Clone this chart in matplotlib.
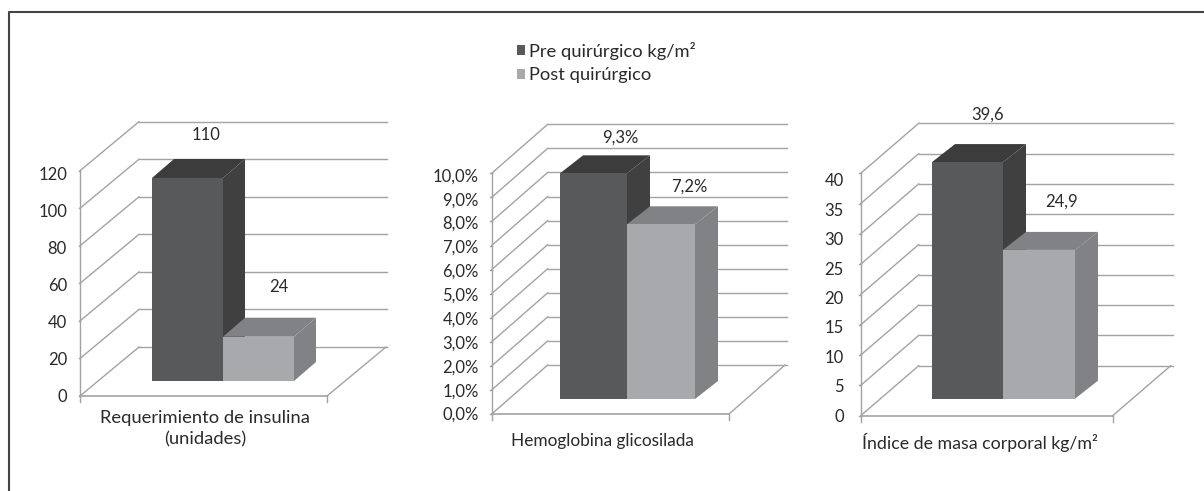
import matplotlib
matplotlib.use("Agg")
import matplotlib.pyplot as plt
from matplotlib.lines import Line2D
from matplotlib.patches import Patch, Polygon
from matplotlib.transforms import Affine2D

plt.rcParams['font.family'] = ['Lato', 'DejaVu Sans']

# data
series_names = ["Pre quirúrgico kg/m²", "Post quirúrgico"]
insulina_vals = [110, 24]
insulina_labels = ["110", "24"]
insulina_ticks = [0, 20, 40, 60, 80, 100, 120]
insulina_ticklabels = ["0", "20", "40", "60", "80", "100", "120"]
hba1c_vals = [9.3, 7.2]
hba1c_labels = ["9,3%", "7,2%"]
hba1c_ticks = [0, 1, 2, 3, 4, 5, 6, 7, 8, 9, 10]
hba1c_ticklabels = ["0,0%", "1,0%", "2,0%", "3,0%", "4,0%", "5,0%", "6,0%", "7,0%", "8,0%", "9,0%", "10,0%"]
imc_vals = [39.6, 24.9]
imc_labels = ["39,6", "24,9"]
imc_ticks = [0, 5, 10, 15, 20, 25, 30, 35, 40]
imc_ticklabels = ["0", "5", "10", "15", "20", "25", "30", "35", "40"]

W, H = 1204, 491
FRONT = ["#58595b", "#a7a9ac"]
SIDE = ["#404041", "#808285"]
TOP = ["#3c3c3d", "#808285"]
GRID = "#a3a3a3"
TXT = "#2a2a2a"
FS = 12
FS_BIG = 13.2

fig = plt.figure(figsize=(W / 100, H / 100), dpi=100)
fig.patch.set_facecolor("white")
# only the top and left rules of the frame are in the picture
fig.add_artist(Line2D([8.5 / W, 8.5 / W, 1], [0, 1 - 11.5 / H, 1 - 11.5 / H], transform=fig.transFigure,
                      color="#444444", lw=1.5))


def panel(x0, x1, ybase, ytop, back_dx, back_dy, right, vals, labels, ticks, ticklabels,
          bar_x, bar_base, bar_scale, depth, label_off, title, title_y, title_fs, pad, drift):
    ax = fig.add_axes([x0 / W, 1 - ybase / H, (x1 - x0) / W, (ybase - ytop) / H])
    ax.set_xlim(x0, x1)
    ax.set_ylim(ticks[0], ticks[-1])
    ax.axis("off")
    back = ax.transData + Affine2D().translate(back_dx, back_dy)
    unit = (ybase - ytop) / (ticks[-1] - ticks[0])
    lift = (ybase - bar_base) / unit

    for t, tl in zip(ticks, ticklabels):
        px = ax.transData.transform((x0, t))
        ax.plot([px[0], px[0] + back_dx], [px[1], px[1] + back_dy], color=GRID, lw=1,
                transform=None, clip_on=False, zorder=1)
        ax.plot([x0, right - back_dx], [t, t], color=GRID, lw=1, transform=back, clip_on=False, zorder=1)
        ax.plot([x0 - 1.5, x0], [t, t], color=GRID, lw=1, clip_on=False, zorder=1)
        # the printed labels sit a little below the ticks, more towards the top
        ax.annotate(tl, (x0, t), xytext=(-pad, -1 + drift * t / ticks[-1]), textcoords="offset pixels",
                    ha="right", va="center", fontsize=FS, color=TXT, annotation_clip=False)
    ax.plot([x0, x0], [ticks[0], ticks[-1]], color=GRID, lw=1, clip_on=False, zorder=1)
    ax.plot([x0, x1], [0, 0], color=GRID, lw=1.2, clip_on=False, zorder=1)
    ax.plot([x1, x1], [0, -6 / unit], color=GRID, lw=1, clip_on=False, zorder=1)
    ax.plot([x0, x0], [0, -6 / unit], color=GRID, lw=1, clip_on=False, zorder=1)
    p = ax.transData.transform((x1, 0))
    ax.plot([p[0], p[0] + back_dx], [p[1], p[1] + back_dy], color=GRID, lw=1, transform=None,
            clip_on=False, zorder=1)

    # dark bar first, the light one goes over its side
    dx, dy = depth
    for i in [0, 1]:
        xa, xb = bar_x[i], bar_x[i + 1]
        h = vals[i] * bar_scale
        v = h + lift
        z = 3 + i * 2
        ax.bar(xa, h, width=xb - xa, bottom=lift, align="edge", color=FRONT[i], lw=0, clip_on=False, zorder=z + 1)
        a = ax.transData.transform([(xa, v), (xb, v), (xb, lift)])
        top = [a[0], a[1], a[1] + (dx, dy), a[0] + (dx, dy)]
        side = [a[1], a[2], a[2] + (dx, dy), a[1] + (dx, dy)]
        ax.add_patch(Polygon(top, closed=True, fc=TOP[i], lw=0, transform=None, clip_on=False, zorder=z))
        ax.add_patch(Polygon(side, closed=True, fc=SIDE[i], lw=0, transform=None, clip_on=False, zorder=z))
        ax.annotate(labels[i], ((xa + xb) / 2, v), xytext=label_off[i], textcoords="offset pixels",
                    ha="center", va="center", fontsize=FS, color=TXT, annotation_clip=False, zorder=8)

    fig.text(title[1] / W, 1 - title_y / H, title[0], ha="center", va="top", fontsize=title_fs, color=TXT,
             linespacing=1.4)


panel(80, 327, 396, 170.7, 59, 49, 387, insulina_vals, insulina_labels, insulina_ticks, insulina_ticklabels,
      [152, 223, 294], 381, 0.983, (22, 19), [(19, 43), (20, 50)], ("Requerimiento de insulina\n(unidades)", 205), 410,
      13.2, 13, -3)
panel(491.7, 729, 414, 173.3, 56, 49, 787, hba1c_vals, hba1c_labels, hba1c_ticks, hba1c_ticklabels,
      [560, 627, 695], 399, 1.008, (23, 18), [(27, 36), (28, 38)], ("Hemoglobina glicosilada", 602), 433,
      12.4, 13, -2)
panel(860.7, 1112.7, 415.7, 173.3, 58, 50, 1172.7, imc_vals, imc_labels, imc_ticks, imc_ticklabels,
      [932, 1003, 1075], 398.7, 0.986, (23, 18), [(20, 47), (22, 48)], ("Índice de masa corporal kg/m²", 980), 433,
      12.8, 17, -7)

handles = [Patch(fc=FRONT[0], lw=0), Patch(fc=FRONT[1], lw=0)]
fig.legend(handles, series_names, loc="upper left", bbox_to_anchor=(513 / W, 1 - 38 / H), frameon=False,
           fontsize=FS_BIG, labelcolor=TXT, handlelength=0.44, handleheight=0.44, handletextpad=0.25, labelspacing=0.42,
           borderpad=0.2, borderaxespad=0)

fig.savefig("out.png", dpi=100, facecolor="white")
